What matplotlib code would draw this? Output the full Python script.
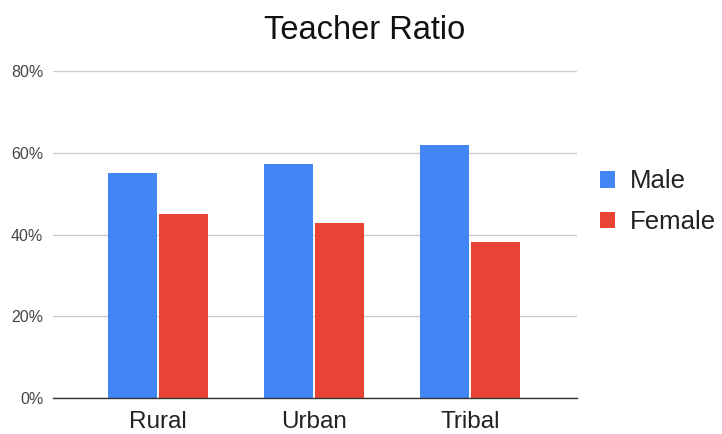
import numpy as np
import matplotlib
matplotlib.use("Agg")
import matplotlib.pyplot as plt
from matplotlib.ticker import PercentFormatter

plt.rcParams['font.family'] = ['Liberation Sans', 'DejaVu Sans']

categories = ['Rural', 'Urban', 'Tribal']
male = [55.0, 57.2, 61.9]
female = [45.0, 42.8, 38.1]
yticks = [0, 20, 40, 60, 80]

fig = plt.figure(figsize=(7.22, 4.34), dpi=100)
ax = fig.add_axes([0.0734, 0.0823, 0.7256, 0.7547])

x = np.arange(len(categories))
w = 0.316
ax.bar(x - w / 2 - 0.005, male, width=w, color='#4285F4', label='Male', zorder=3)
ax.bar(x + w / 2 + 0.005, female, width=w, color='#EA4335', label='Female', zorder=3)

ax.set_xlim(-0.673, 2.686)
ax.set_ylim(0, 80)
ax.set_yticks(yticks)
ax.yaxis.set_major_formatter(PercentFormatter(decimals=0))
ax.set_xticks(x)
ax.set_xticklabels(categories, fontsize=17.5, color='#222222')
ax.tick_params(axis='y', labelsize=11.5, colors='#444444', length=0, pad=7)
ax.tick_params(axis='x', length=0, pad=9)

ax.grid(axis='y', color='#cccccc', linewidth=1, zorder=0)
for s in ['top', 'right', 'left']:
    ax.spines[s].set_visible(False)
ax.spines['bottom'].set_color('#333333')
ax.spines['bottom'].set_linewidth(1)
ax.spines['bottom'].set_zorder(4)

fig.text(0.505, 0.93, 'Teacher Ratio', ha='center', va='center', fontsize=23.5, color='#111111')

leg = ax.legend(loc='center left', bbox_to_anchor=(1.0, 0.60), frameon=False,
                fontsize=18.5, handlelength=0.6, handleheight=0.6, handletextpad=0.55,
                labelspacing=0.65)
for t in leg.get_texts():
    t.set_color('#222222')

fig.savefig('out.png', dpi=100)
